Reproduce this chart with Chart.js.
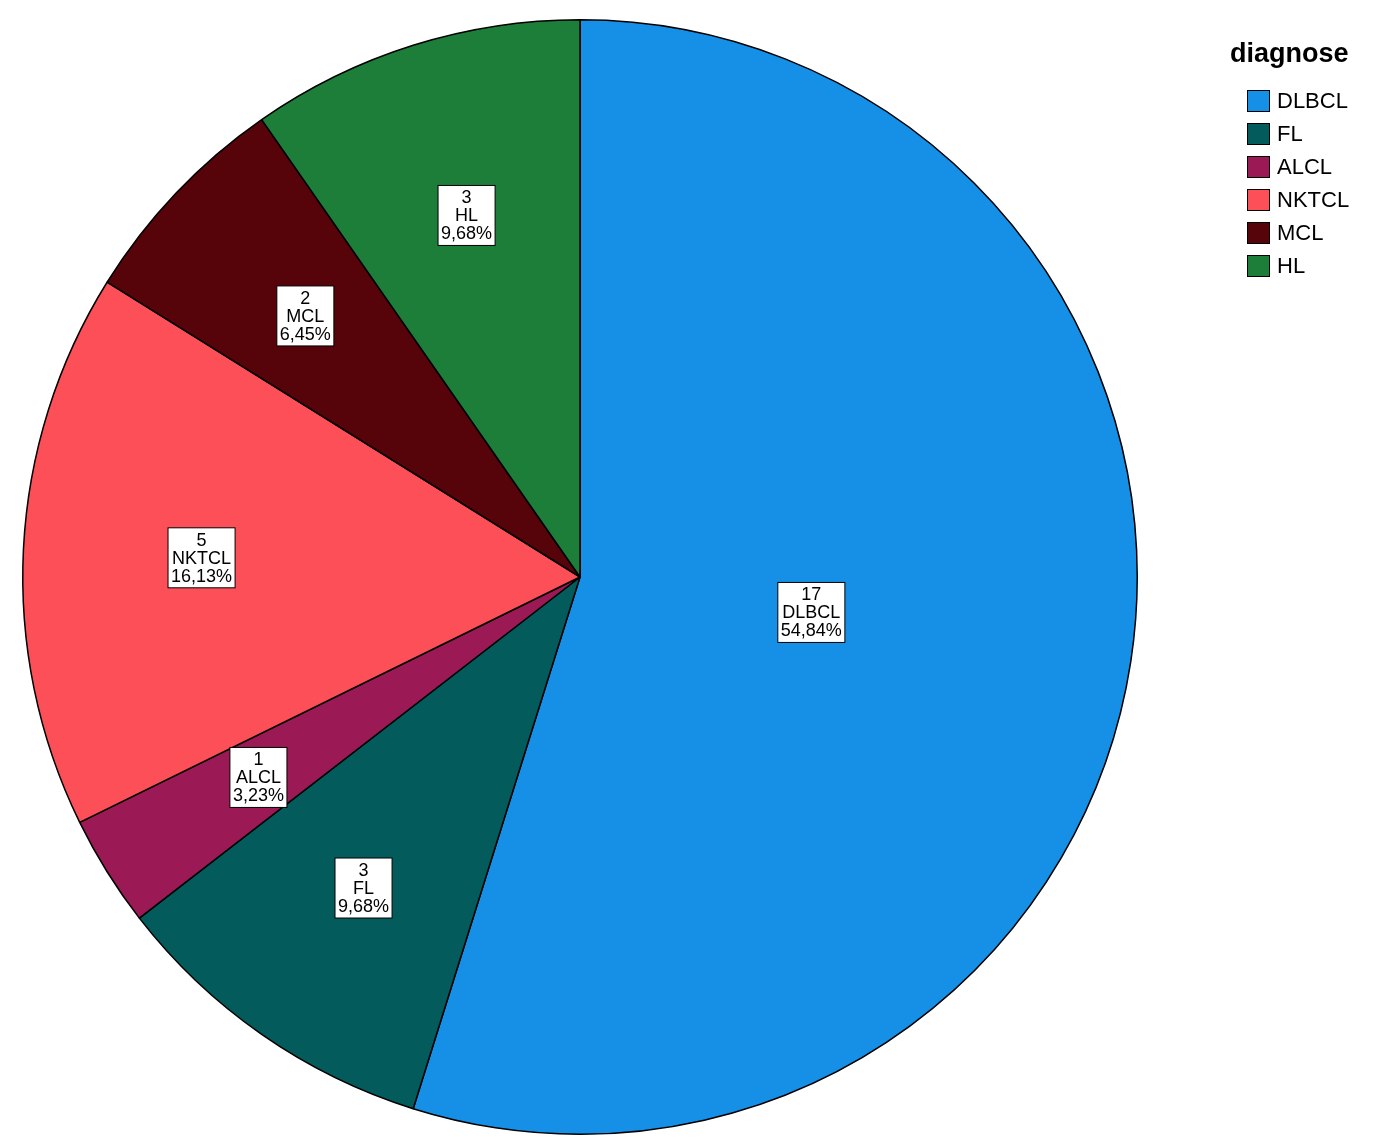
<!DOCTYPE html>
<html>
<head>
<meta charset="utf-8">
<script src="https://cdn.jsdelivr.net/npm/chart.js@4"></script>
<style>
  body { margin:0; background:#fff; }
  #wrap { position:relative; width:1390px; height:1144px; }
</style>
</head>
<body>
<div id="wrap"><canvas id="pie"></canvas></div>
<script>
const categories = ['DLBCL', 'FL', 'ALCL', 'NKTCL', 'MCL', 'HL'];
const counts = [17, 3, 1, 5, 2, 3];
const percentLabels = ['54,84%', '9,68%', '3,23%', '16,13%', '6,45%', '9,68%'];
const colors = ['#1690e6', '#035b5b', '#9b1a55', '#fd4f58', '#560309', '#1d7e3a'];
const legendTitle = 'diagnose';

const FONT = '"Liberation Sans", Arial, sans-serif';

// white boxed labels inside each slice
const sliceLabels = {
  id: 'sliceLabels',
  afterDatasetsDraw(chart) {
    const ctx = chart.ctx;
    const arcs = chart.getDatasetMeta(0).data;
    const maxVal = Math.max(...counts);
    ctx.save();
    ctx.font = '18px ' + FONT;
    ctx.textAlign = 'center';
    ctx.textBaseline = 'middle';
    arcs.forEach((arc, i) => {
      const mid = (arc.startAngle + arc.endAngle) / 2;
      const f = counts[i] === maxVal ? 0.42 : 0.68;
      const x = arc.x + Math.cos(mid) * arc.outerRadius * f;
      const y = arc.y + Math.sin(mid) * arc.outerRadius * f;
      const lines = [String(counts[i]), categories[i], percentLabels[i]];
      const w = Math.max(...lines.map(l => ctx.measureText(l).width)) + 6;
      const lh = 18, h = lh * 3 + 6;
      ctx.fillStyle = '#fff';
      ctx.fillRect(x - w / 2, y - h / 2, w, h);
      ctx.strokeStyle = '#000';
      ctx.lineWidth = 1;
      ctx.strokeRect(x - w / 2, y - h / 2, w, h);
      ctx.fillStyle = '#000';
      lines.forEach((l, k) => ctx.fillText(l, x, y - lh + k * lh + 1));
    });
    ctx.restore();
  }
};

// legend at the top right
const sideLegend = {
  id: 'sideLegend',
  afterDraw(chart) {
    const ctx = chart.ctx;
    ctx.save();
    ctx.fillStyle = '#000';
    ctx.font = 'bold 27px ' + FONT;
    ctx.textBaseline = 'alphabetic';
    ctx.fillText(legendTitle, 1230, 62);
    ctx.font = '22px ' + FONT;
    ctx.textBaseline = 'middle';
    categories.forEach((c, i) => {
      const y = 101 + i * 33;
      ctx.fillStyle = colors[i];
      ctx.fillRect(1247, y - 11, 23, 22);
      ctx.strokeStyle = '#000';
      ctx.lineWidth = 1;
      ctx.strokeRect(1247.5, y - 10.5, 22, 21);
      ctx.fillStyle = '#000';
      ctx.fillText(c, 1277, y + 1);
    });
    ctx.restore();
  }
};

new Chart(document.getElementById('pie'), {
  type: 'pie',
  data: {
    labels: categories,
    datasets: [{
      data: counts,
      backgroundColor: colors,
      borderColor: '#000',
      borderWidth: 1.5
    }]
  },
  options: {
    responsive: true,
    maintainAspectRatio: false,
    animation: false,
    layout: { padding: { left: 22, top: 19, right: 252, bottom: 9 } },
    plugins: { legend: { display: false }, tooltip: { enabled: false } }
  },
  plugins: [sliceLabels, sideLegend]
});
</script>
</body>
</html>
